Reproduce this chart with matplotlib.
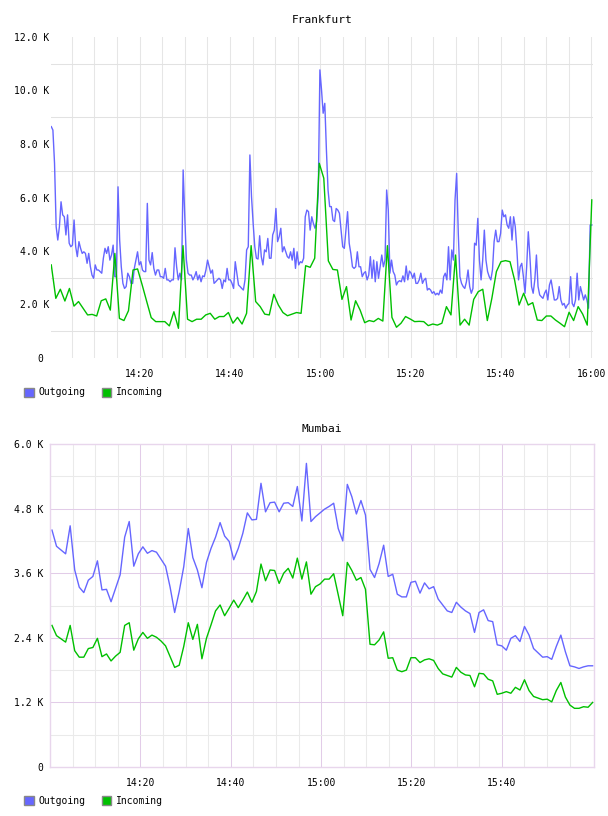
import matplotlib.pyplot as plt
import numpy as np
from matplotlib.patches import Patch

plt.rcParams['font.family'] = ['DejaVu Sans Mono']
plt.rcParams['font.size'] = 7

# traffic in thousands, samples evenly spaced from first to last minute
fra_out = [
    8.65, 8.52, 7.28, 4.91, 4.41, 4.91, 5.84, 5.35, 5.28, 4.60,
    5.35, 4.29, 4.16, 4.22, 5.16, 4.16, 3.79, 4.35, 4.10, 3.91,
    3.97, 3.91, 3.54, 3.91, 3.42, 3.10, 2.98, 3.48, 3.29, 3.29,
    3.23, 3.17, 3.73, 4.10, 3.91, 4.16, 3.66, 3.85, 4.22, 3.04,
    3.04, 6.40, 4.41, 3.41, 2.79, 2.60, 2.67, 3.17, 3.04, 2.79,
    2.79, 3.35, 3.66, 3.97, 3.48, 3.60, 3.29, 3.23, 3.23, 5.78,
    3.66, 3.48, 3.94, 3.35, 3.10, 3.29, 3.29, 3.04, 3.04, 2.98,
    3.35, 2.92, 2.92, 2.85, 2.92, 2.92, 4.12, 3.41, 2.92, 3.17,
    2.92, 7.03, 5.28, 3.66, 3.17, 3.10, 3.10, 2.92, 3.04, 3.23,
    2.92, 3.10, 2.85, 3.07, 3.04, 3.29, 3.66, 3.41, 3.17, 3.29,
    2.79, 2.85, 2.92, 2.98, 2.92, 2.60, 2.92, 2.85, 3.35, 2.92,
    2.92, 2.79, 2.60,
    3.60, 3.17, 2.73, 2.67, 2.60, 2.54, 2.92, 4.04, 4.16, 7.59,
    6.03, 5.03, 4.16, 3.73, 3.70, 4.57, 3.79, 3.48, 4.04, 3.97,
    4.47, 3.73, 3.73, 4.60, 4.78, 5.59, 4.35, 4.54, 4.85, 3.97,
    4.16, 3.97, 3.79, 3.73, 3.97, 3.66, 4.10, 3.35, 3.97, 3.48,
    3.60, 3.56, 3.73, 5.28, 5.53, 5.47, 4.78, 5.28, 5.03, 4.85,
    5.10, 6.16, 10.77, 10.02, 9.15, 9.52, 7.78, 6.28, 5.66, 5.66,
    5.16, 5.10, 5.59, 5.53, 5.41, 4.78, 4.16, 4.10, 4.78, 5.47,
    4.29, 3.91, 3.41, 3.35, 3.41, 3.97, 3.41, 3.41, 3.04, 3.17,
    3.23, 2.92, 3.10, 3.79, 2.98, 3.66, 2.85, 3.60, 2.98, 3.41,
    3.85, 3.41, 3.66, 6.28, 5.53, 3.17, 3.66, 3.23, 3.10, 2.73,
    2.85, 2.89, 2.85, 3.07, 2.85, 3.44, 2.92, 3.25, 3.17, 2.98,
    3.17, 2.79, 2.79, 2.92,
    3.17, 2.79, 2.92, 2.98, 2.54, 2.60, 2.54, 2.42, 2.48, 2.36,
    2.42, 2.36, 2.54, 2.42, 3.04, 3.17, 2.92, 4.16, 2.92, 4.04,
    3.66, 5.91, 6.90, 4.66, 3.04, 2.79, 2.67, 2.60, 2.85, 3.29,
    2.67, 2.42, 2.60, 4.29, 4.22, 5.22, 3.66, 2.92, 3.66, 4.78,
    3.66, 3.23, 3.04, 2.92, 3.29, 4.35, 4.78, 4.35, 4.35, 4.66,
    5.53, 5.28, 5.35, 4.97, 4.85, 5.28, 4.41, 5.28, 4.91, 4.04,
    2.92, 3.41, 3.54, 3.04, 2.42, 3.41, 4.72, 3.79, 2.67, 2.42,
    2.92, 3.85, 2.67, 2.36, 2.29, 2.23, 2.42, 2.54, 2.17, 2.73,
    2.92, 2.54, 2.17, 2.17, 2.23, 2.67, 2.17, 1.98, 2.04, 1.86,
    1.98, 2.04, 3.04, 2.04, 1.92, 2.17, 3.17, 2.17, 2.67, 2.42,
    2.17, 2.36, 2.17, 1.86, 4.97, 4.97,
]

fra_in = [
    3.48, 2.23, 2.57, 2.13, 2.60, 1.94, 2.11, 1.86, 1.61, 1.63,
    1.57, 2.14, 2.21, 1.79, 3.91, 1.48, 1.40, 1.77, 3.29, 3.33,
    2.74, 2.12, 1.51, 1.36, 1.36, 1.36, 1.20, 1.73, 1.11, 4.20,
    1.45, 1.36, 1.45, 1.45, 1.61, 1.67, 1.45, 1.55, 1.55, 1.70,
    1.30, 1.52, 1.27, 1.67, 4.20, 2.11, 1.92, 1.64, 1.61, 2.38,
    1.98, 1.70, 1.58, 1.64, 1.70, 1.67, 3.45, 3.39, 3.73, 7.28,
    6.72, 3.63, 3.31, 3.29, 2.19, 2.67, 1.42, 2.14, 1.79, 1.32,
    1.40, 1.36, 1.48, 1.38, 4.20, 1.52, 1.15, 1.30, 1.55, 1.46,
    1.36, 1.37, 1.36, 1.21, 1.27, 1.23, 1.30, 1.92, 1.61, 3.85,
    1.23, 1.45, 1.23, 2.19, 2.48, 2.57, 1.40, 2.23, 3.23, 3.60,
    3.64, 3.60, 2.92, 1.98, 2.42, 1.98, 2.07, 1.42, 1.40, 1.57,
    1.57, 1.42, 1.30, 1.17, 1.71, 1.40, 1.92, 1.64, 1.23, 5.91,
]

mum_out = [
    4.40, 4.10, 4.03, 3.96, 4.48, 3.66, 3.34, 3.24, 3.47, 3.54,
    3.83, 3.29, 3.30, 3.07, 3.32, 3.57, 4.27, 4.56, 3.73, 3.96,
    4.09, 3.97, 4.02, 3.99, 3.86, 3.73, 3.34, 2.87, 3.26, 3.72,
    4.43, 3.89, 3.66, 3.33, 3.80, 4.06, 4.27, 4.54, 4.29, 4.19,
    3.85, 4.06, 4.34, 4.72, 4.59, 4.60, 5.27, 4.74, 4.91, 4.92,
    4.74, 4.90, 4.91, 4.84, 5.21, 4.57, 5.64, 4.56, 4.65, 4.72,
    4.79, 4.84, 4.90, 4.43, 4.20, 5.25, 5.02, 4.70, 4.95, 4.68,
    3.67, 3.52, 3.78, 4.12, 3.54, 3.58, 3.21, 3.16, 3.16, 3.43,
    3.45, 3.23, 3.42, 3.31, 3.35, 3.12, 3.01, 2.90, 2.87, 3.06,
    2.97, 2.90, 2.85, 2.50, 2.87, 2.92, 2.72, 2.70, 2.27, 2.25,
    2.17, 2.39, 2.44, 2.33, 2.61, 2.45, 2.20, 2.12, 2.04, 2.05,
    2.00, 2.24, 2.45, 2.14, 1.88, 1.86, 1.83, 1.86, 1.88, 1.88,
]

mum_in = [
    2.63, 2.44, 2.38, 2.32, 2.63, 2.16, 2.04, 2.04, 2.20, 2.22,
    2.39, 2.05, 2.10, 1.97, 2.06, 2.13, 2.63, 2.68, 2.17, 2.38,
    2.50, 2.39, 2.45, 2.41, 2.34, 2.25, 2.05, 1.85, 1.89, 2.24,
    2.68, 2.37, 2.65, 2.01, 2.39, 2.64, 2.90, 3.01, 2.81, 2.95,
    3.10, 2.96, 3.10, 3.25, 3.06, 3.26, 3.77, 3.46, 3.66, 3.65,
    3.41, 3.60, 3.69, 3.51, 3.88, 3.49, 3.81, 3.21, 3.35, 3.40,
    3.49, 3.49, 3.59, 3.20, 2.81, 3.80, 3.65, 3.47, 3.52, 3.30,
    2.28, 2.27, 2.36, 2.51, 2.02, 2.03, 1.80, 1.77, 1.80, 2.03,
    2.03, 1.94, 1.99, 2.01, 1.98, 1.83, 1.73, 1.70, 1.67, 1.85,
    1.76, 1.71, 1.70, 1.49, 1.74, 1.73, 1.63, 1.60, 1.35, 1.37,
    1.40, 1.37, 1.48, 1.43, 1.62, 1.42, 1.31, 1.28, 1.25, 1.26,
    1.21, 1.42, 1.57, 1.30, 1.15, 1.09, 1.09, 1.12, 1.11, 1.20,
]

# minutes after 14:00 of the first and last samples
first_min, last_min = 0.44, 120.1

fra_yticks = [0, 2, 4, 6, 8, 10, 12]
fra_ylabels = ['0 ', '2.0 K', '4.0 K', '6.0 K', '8.0 K', '10.0 K', '12.0 K']
fra_xticks = [20, 40, 60, 80, 100, 120]
fra_xlabels = ['14:20', '14:40', '15:00', '15:20', '15:40', '16:00']

mum_yticks = [0, 1.2, 2.4, 3.6, 4.8, 6.0]
mum_ylabels = ['0', '1.2 K', '2.4 K', '3.6 K', '4.8 K', '6.0 K']
mum_xticks = [20, 40, 60, 80, 100]
mum_xlabels = ['14:20', '14:40', '15:00', '15:20', '15:40']

BLUE = '#6666ff'
GREEN = '#00c000'
W, H = 608, 816


def times(vals):
    return np.linspace(first_min, last_min, len(vals))


def legend(fig, ypix):
    handles = [Patch(facecolor=BLUE, edgecolor='#888888', lw=1),
               Patch(facecolor=GREEN, edgecolor='#888888', lw=1)]
    fig.legend(handles, ['Outgoing', 'Incoming'], loc='center left',
               bbox_to_anchor=(24 / W, 1 - ypix / H), ncol=2, frameon=False,
               handlelength=1.0, handleheight=1.0, handletextpad=0.45,
               columnspacing=1.7, borderpad=0, borderaxespad=0, fontsize=7)


fig = plt.figure(figsize=(W / 100, H / 100), dpi=100)

# ---- Frankfurt
ax1 = fig.add_axes([51 / W, 1 - 358 / H, 542 / W, 321 / H])
for s in ax1.spines.values():
    s.set_visible(False)
for t in range(5, 121, 5):
    ax1.axvline(t, color='#e6e6e6', lw=0.75, zorder=0)
for v in range(1, 12, 2):
    ax1.axhline(v, color='#e2e2e2', lw=0.75, zorder=0)
ax1.plot(times(fra_out), fra_out, color=BLUE, lw=1.0)
ax1.plot(times(fra_in), fra_in, color=GREEN, lw=1.0)
ax1.set_xlim(0.38, 120.37)
ax1.set_ylim(0, 12)
ax1.set_yticks(fra_yticks, fra_ylabels)
ax1.set_xticks(fra_xticks, fra_xlabels)
ax1.tick_params(axis='y', length=0, pad=1)
ax1.tick_params(axis='x', length=0, pad=8)
fig.text(322 / W, 1 - 20 / H, 'Frankfurt', ha='center', va='center', fontsize=8)
legend(fig, 392.5)

# ---- Mumbai
ax2 = fig.add_axes([50 / W, 1 - 767 / H, 544 / W, 323 / H])
for s in ax2.spines.values():
    s.set_color('#e8d6ec')
    s.set_linewidth(1)
for t in range(5, 120, 5):
    major = t % 20 == 0
    ax2.axvline(t, color='#e2cce8' if major else '#eaeaea', lw=0.75, zorder=0)
for v in [0.6, 1.2, 1.8, 2.4, 3.0, 3.6, 4.2, 4.8, 5.4]:
    major = round(v / 1.2, 3) == round(v / 1.2)
    ax2.axhline(v, color='#e2cce8' if major else '#eaeaea', lw=0.75, zorder=0)
ax2.plot(times(mum_out), mum_out, color=BLUE, lw=1.0)
ax2.plot(times(mum_in), mum_in, color=GREEN, lw=1.0)
ax2.set_xlim(0, 120.4)
ax2.set_ylim(0, 6)
ax2.set_yticks(mum_yticks, mum_ylabels)
ax2.set_xticks(mum_xticks, mum_xlabels)
ax2.tick_params(axis='y', length=0, pad=5)
ax2.tick_params(axis='x', length=0, pad=8)
fig.text(322 / W, 1 - 429 / H, 'Mumbai', ha='center', va='center', fontsize=8)
legend(fig, 801)

fig.savefig('out.png', dpi=100)
